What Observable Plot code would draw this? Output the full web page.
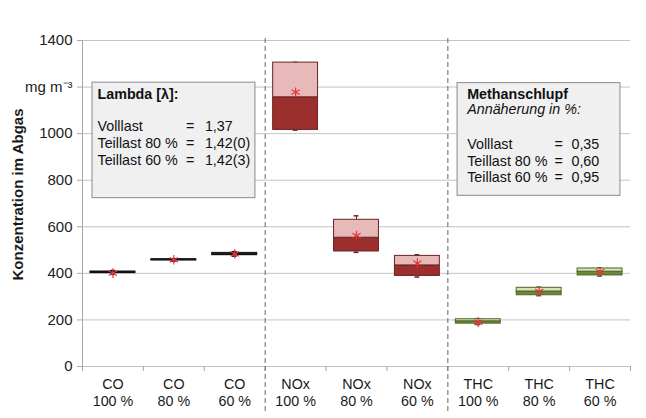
<!DOCTYPE html>
<html><head><meta charset="utf-8">
<script src="https://cdn.jsdelivr.net/npm/d3@7"></script>
<script src="https://cdn.jsdelivr.net/npm/@observablehq/plot@0.6"></script>
<style>body{margin:0;background:#fff;font-family:"Liberation Sans",Arial,sans-serif}</style>
</head><body><div id="chart"></div>
<script>
// ---- data ----
const species = ["CO","CO","CO","NOx","NOx","NOx","THC","THC","THC"];
const loads   = ["100 %","80 %","60 %","100 %","80 %","60 %","100 %","80 %","60 %"];
const minV  = [396, 452, 474, 1015, 490, 384, 180, 304, 388];
const q1V   = [401, 455, 478, 1016, 494, 389, 184, 306, 391];
const medV  = [404, 458, 482, 1156, 553, 434, 194, 322, 407];
const q3V   = [408, 461, 488, 1305, 630, 475, 203, 338, 421];
const maxV  = [412, 463, 493, 1306, 647, 480, 206, 341, 424];
const meanV = [401, 458, 484, 1178, 562, 444, 190, 323, 407];
const yTicks = [0, 200, 400, 600, 800, 1000, 1200, 1400];
const unitLabel = "mg m⁻³";
const yTitle = "Konzentration im Abgas";
const groupDividers = [3, 6];

const lambdaTitle = "Lambda [λ]:";
const lambdaRows = ["Volllast", "Teillast 80 %", "Teillast 60 %"];
const lambdaVals = ["1,37", "1,42(0)", "1,42(3)"];
const methanTitle = "Methanschlupf";
const methanSub = "Annäherung in %:";
const methanRows = ["Volllast", "Teillast 80 %", "Teillast 60 %"];
const methanVals = ["0,35", "0,60", "0,95"];

// ---- styles ----
const darkFill  = {CO: "#1e2630", NOx: "#9c2e2e", THC: "#6c8a3a"};
const lightFill = {CO: "#33485c", NOx: "#e7b9b9", THC: "#d5e3b8"};
const edge      = {CO: "#111111", NOx: "#6a2222", THC: "#4e6428"};
const fs = 14.3;

const data = species.map((s, i) => ({
  i, s, load: loads[i], min: minV[i], q1: q1V[i], med: medV[i], q3: q3V[i], max: maxV[i], mean: meanV[i]
}));
const centers = data.map(d => d.i + 0.5);
const boundaries = d3.range(0, species.length + 1);

const plot = Plot.plot({
  width: 646, height: 418,
  marginLeft: 82, marginRight: 16, marginTop: 40, marginBottom: 52,
  x: {domain: [0, species.length], axis: null},
  y: {domain: [0, 1400], axis: null},
  style: {fontFamily: "'Liberation Sans', Arial, sans-serif", fontSize: "14px", color: "#1a1a1a", background: "white"},
  marks: [
    Plot.ruleY(yTicks, {stroke: "#c4c4c4"}),
    Plot.ruleX([0], {stroke: "#a8a8a8"}),
    Plot.axisY({ticks: yTicks, tickSize: 5, tickPadding: 5, stroke: "#a8a8a8", fill: "#222",
      tickFormat: d => d === 1200 ? unitLabel : String(d), label: null, fontSize: 15}),
    Plot.axisX({ticks: boundaries, tickSize: 5, stroke: "#a8a8a8", tickFormat: () => "", label: null}),
    Plot.axisX({ticks: centers, tickSize: 0, tickPadding: 10, fill: "#1a1a1a", lineHeight: 1.2, fontSize: 14.3,
      tickFormat: d => species[Math.floor(d)] + "\n" + loads[Math.floor(d)], label: null}),
    Plot.ruleX(groupDividers, {stroke: "#666", strokeDasharray: "5,3", insetBottom: -46, insetTop: -2}),
    Plot.text([yTitle], {frameAnchor: "left", textAnchor: "middle", rotate: -90, dx: -64, dy: -9, fontWeight: "bold", fontSize: 15, fill: "#1a1a1a"}),

    // annotation boxes
    Plot.rect([lambdaTitle], {x1: 0.164, x2: 2.84, y1: 723, y2: 1219, fill: "#f0f0f0", stroke: "#8a8a8a"}),
    Plot.rect([methanTitle], {x1: 6.16, x2: 8.835, y1: 733, y2: 1217, fill: "#f0f0f0", stroke: "#8a8a8a"}),
    Plot.text([lambdaTitle], {x: 0.246, y: 1168, textAnchor: "start", fontWeight: "bold", fontSize: fs, fill: "#111"}),
    Plot.text([lambdaRows.join("\n")], {x: 0.246, y: 962, textAnchor: "start", lineHeight: 1.17, fontSize: fs, fill: "#111"}),
    Plot.text([lambdaRows.map(() => "=").join("\n")], {x: 1.77, y: 962, lineHeight: 1.17, fontSize: fs, fill: "#111"}),
    Plot.text([lambdaVals.join("\n")], {x: 2.01, y: 962, textAnchor: "start", lineHeight: 1.17, fontSize: fs, fill: "#111"}),
    Plot.text([methanTitle], {x: 6.318, y: 1168, textAnchor: "start", fontWeight: "bold", fontSize: fs, fill: "#111"}),
    Plot.text([methanSub], {x: 6.318, y: 1104, textAnchor: "start", fontStyle: "italic", fontSize: fs, fill: "#111"}),
    Plot.text([methanRows.join("\n")], {x: 6.318, y: 885, textAnchor: "start", lineHeight: 1.17, fontSize: fs, fill: "#111"}),
    Plot.text([methanRows.map(() => "=").join("\n")], {x: 7.82, y: 885, lineHeight: 1.17, fontSize: fs, fill: "#111"}),
    Plot.text([methanVals.join("\n")], {x: 8.03, y: 885, textAnchor: "start", lineHeight: 1.17, fontSize: fs, fill: "#111"}),

    // whiskers
    Plot.ruleX(data, {x: d => d.i + 0.5, y1: "min", y2: "max", stroke: d => edge[d.s]}),
    Plot.ruleY(data, {y: "max", x1: d => d.i + 0.46, x2: d => d.i + 0.54, stroke: d => edge[d.s], strokeWidth: 1.5}),
    Plot.ruleY(data, {y: "min", x1: d => d.i + 0.46, x2: d => d.i + 0.54, stroke: d => edge[d.s], strokeWidth: 1.5}),
    // boxes
    Plot.rect(data, {x1: d => d.i, x2: d => d.i + 1, y1: "q1", y2: "med", insetLeft: 8, insetRight: 8,
      fill: d => darkFill[d.s], stroke: d => edge[d.s]}),
    Plot.rect(data, {x1: d => d.i, x2: d => d.i + 1, y1: "med", y2: "q3", insetLeft: 8, insetRight: 8,
      fill: d => lightFill[d.s], stroke: d => edge[d.s]}),
    // means
    Plot.dot(data, {x: d => d.i + 0.5, y: "mean", symbol: "asterisk", r: 4.5, stroke: "#e4373a", strokeWidth: 1.2})
  ]
});
document.getElementById("chart").appendChild(plot);
</script>
</body></html>
